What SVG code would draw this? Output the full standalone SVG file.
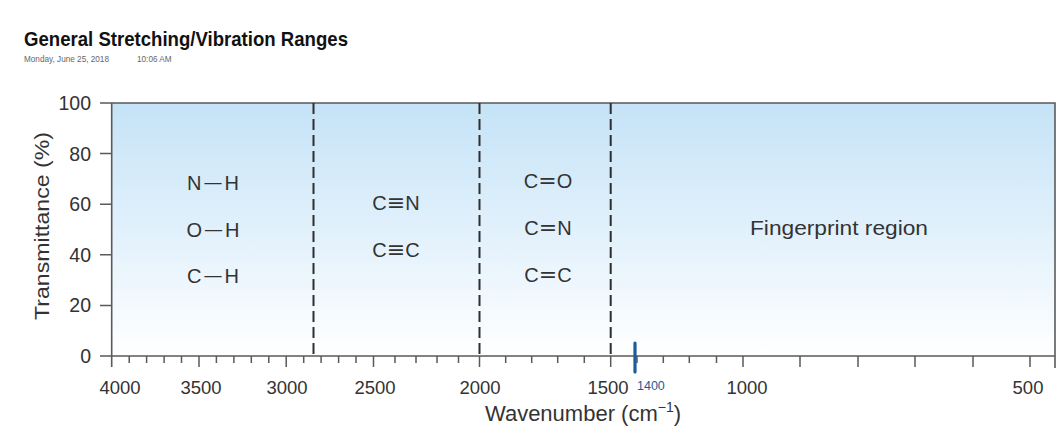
<svg xmlns="http://www.w3.org/2000/svg" width="1064" height="446" viewBox="0 0 1064 446">
<style>
text{font-family:"Liberation Sans",Arial,sans-serif;fill:#333333}
.title{font-weight:bold;font-size:21px;fill:#111}
.sub{font-size:8.2px;fill:#666}
.ax{stroke:#5a5a5a;stroke-width:1.6;fill:none}
.tk{stroke:#5a5a5a;stroke-width:1.5}
.dash{stroke:#2e2e2e;stroke-width:2;stroke-dasharray:11 5;fill:none}
.yl{font-size:19.5px;text-anchor:end}
.xl{font-size:18.5px;text-anchor:middle}
.atom{font-size:20px;text-anchor:middle}
.b{font-family:"DejaVu Sans",sans-serif}
</style>
<defs>
<linearGradient id="bg" x1="0" y1="0" x2="0" y2="1">
<stop offset="0" stop-color="#c5e3f7"/>
<stop offset="0.55" stop-color="#e4f2fc"/>
<stop offset="1" stop-color="#ffffff"/>
</linearGradient>
</defs>
<rect width="1064" height="446" fill="#ffffff"/>
<g id="header">
<text class="title" x="24" y="46" textLength="324" lengthAdjust="spacingAndGlyphs">General Stretching/Vibration Ranges</text>
<text class="sub" x="24" y="62">Monday, June 25, 2018</text>
<text class="sub" x="137" y="62">10:06 AM</text>
</g>
<g id="plot">
<rect x="111.7" y="103" width="943.3" height="253" fill="url(#bg)"/>
<path class="ax" d="M100 103H1055V368M100 356H1055M111.7 103V367"/>
</g>
<g id="y-axis">
<path class="tk" d="M100 153.6H111.7M100 204.2H111.7M100 254.8H111.7M100 305.4H111.7"/>
<text class="yl" x="91" y="110">100</text>
<text class="yl" x="91" y="160.5">80</text>
<text class="yl" x="91" y="211">60</text>
<text class="yl" x="91" y="261.5">40</text>
<text class="yl" x="91" y="312">20</text>
<text class="yl" x="91" y="363">0</text>
<text x="49" y="226" font-size="21" text-anchor="middle" transform="rotate(-90 49 226)" textLength="188" lengthAdjust="spacingAndGlyphs">Transmittance (%)</text>
</g>
<g id="x-axis">
<path class="tk" d="M129.2 356V363M146.6 356V363M164.1 356V363M181.5 356V363M216.4 356V363M233.9 356V363M251.3 356V363M268.8 356V363M303.7 356V363M321.1 356V363M338.6 356V363M356 356V363M395 356V363M416 356V363M437 356V363M458.5 356V363M505.7 356V363M531.7 356V363M557.7 356V363M584.3 356V363M637 356V363M663.3 356V363M689.3 356V363M716.5 356V363"/>
<path class="tk" d="M199 356V367M286.2 356V367M373.5 356V367M479.5 356V367M610.7 356V367M743 356V367M800 356V367M858 356V367M915 356V367M973 356V367M1030 356V367"/>
<text class="xl" x="120" y="394">4000</text>
<text class="xl" x="201" y="394">3500</text>
<text class="xl" x="287" y="394">3000</text>
<text class="xl" x="375" y="394">2500</text>
<text class="xl" x="480" y="394">2000</text>
<text class="xl" x="608" y="394">1500</text>
<text class="xl" x="747" y="394">1000</text>
<text class="xl" x="1028" y="394">500</text>
<text x="583" y="421" font-size="22" text-anchor="middle">Wavenumber (cm<tspan font-size="14" dy="-9">−1</tspan><tspan dy="9">)</tspan></text>
</g>
<g id="connectors">
<path class="dash" d="M313.5 103V356M479.5 103V356M610.7 103V356"/>
</g>
<g id="region-xh">
<text class="atom" x="213" y="190">N<tspan class="b" font-size="19" dx="2" dy="-1.5">—</tspan><tspan dx="2" dy="1.5">H</tspan></text>
<text class="atom" x="213" y="237">O<tspan class="b" font-size="19" dx="2" dy="-1.5">—</tspan><tspan dx="2" dy="1.5">H</tspan></text>
<text class="atom" x="213" y="283">C<tspan class="b" font-size="19" dx="2" dy="-1.5">—</tspan><tspan dx="2" dy="1.5">H</tspan></text>
</g>
<g id="region-triple">
<text class="atom" x="396" y="210">C<tspan class="b" font-size="22">≡</tspan>N</text>
<text class="atom" x="396" y="257">C<tspan class="b" font-size="22">≡</tspan>C</text>
</g>
<g id="region-double">
<text class="atom" x="548" y="188">C<tspan class="b" font-size="22">=</tspan>O</text>
<text class="atom" x="548" y="235">C<tspan class="b" font-size="22">=</tspan>N</text>
<text class="atom" x="548" y="282">C<tspan class="b" font-size="22">=</tspan>C</text>
</g>
<g id="region-fingerprint">
<text x="839" y="235" font-size="20" text-anchor="middle" textLength="178" lengthAdjust="spacingAndGlyphs">Fingerprint region</text>
</g>
<g id="annotation">
<path d="M635 343V372" stroke="#1f5a99" stroke-width="3.2" stroke-linecap="round"/>
<text x="637" y="390" font-size="12.5" style="fill:#1f5a99">1400</text>
</g>
</svg>
